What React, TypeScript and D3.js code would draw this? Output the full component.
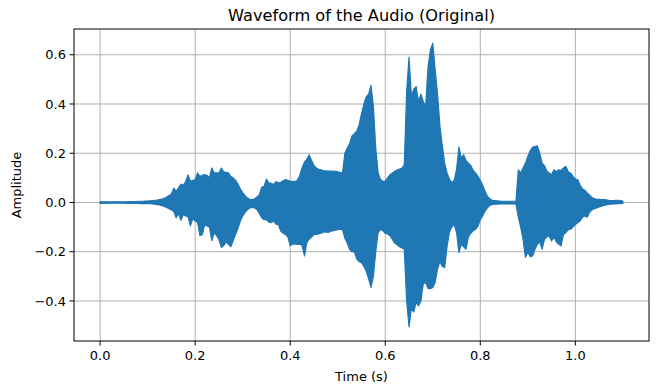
import React from 'react';
import * as d3 from 'd3';

// envelope of the waveform, one value every 5 ms from 0.000 s to 1.100 s
const SAMPLE_STEP = 0.005;

const upperEnvelope = [
  0.004, 0.003, 0.003, 0.003, 0.003, 0.003, 0.003, 0.003, 0.003, 0.003,
  0.003, 0.003, 0.004, 0.004, 0.004, 0.004, 0.005, 0.005, 0.005, 0.006,
  0.006, 0.007, 0.008, 0.009, 0.010, 0.012, 0.014, 0.017, 0.022, 0.028,
  0.035, 0.058, 0.045, 0.060, 0.075, 0.070, 0.085, 0.112, 0.086, 0.090,
  0.092, 0.120, 0.105, 0.110, 0.113, 0.110, 0.100, 0.140, 0.120, 0.120,
  0.120, 0.140, 0.125, 0.122, 0.120, 0.105, 0.100, 0.090, 0.075, 0.055,
  0.040, 0.028, 0.018, 0.013, 0.012, 0.015, 0.022, 0.032, 0.062, 0.066,
  0.095, 0.080, 0.078, 0.073, 0.085, 0.080, 0.082, 0.088, 0.093, 0.090,
  0.086, 0.086, 0.085, 0.090, 0.110, 0.140, 0.165, 0.175, 0.194, 0.170,
  0.150, 0.140, 0.135, 0.133, 0.130, 0.128, 0.127, 0.127, 0.127, 0.126,
  0.125, 0.122, 0.120, 0.200, 0.220, 0.240, 0.270, 0.280, 0.290, 0.315,
  0.360, 0.400, 0.430, 0.440, 0.476, 0.390, 0.220, 0.120, 0.093, 0.086,
  0.086, 0.100, 0.113, 0.120, 0.127, 0.132, 0.136, 0.140, 0.153, 0.450,
  0.590, 0.430, 0.460, 0.470, 0.410, 0.440, 0.410, 0.390, 0.550, 0.620,
  0.647, 0.540, 0.440, 0.310, 0.230, 0.160, 0.120, 0.095, 0.080, 0.090,
  0.133, 0.225, 0.180, 0.194, 0.170, 0.160, 0.150, 0.130, 0.120, 0.106,
  0.090, 0.070, 0.046, 0.025, 0.015, 0.009, 0.008, 0.007, 0.006, 0.005,
  0.005, 0.005, 0.005, 0.005, 0.005, 0.005, 0.133, 0.120, 0.140, 0.160,
  0.187, 0.210, 0.225, 0.227, 0.230, 0.200, 0.160, 0.150, 0.127, 0.120,
  0.113, 0.133, 0.125, 0.133, 0.130, 0.140, 0.147, 0.125, 0.120, 0.106,
  0.095, 0.093, 0.070, 0.055, 0.050, 0.039, 0.030, 0.020, 0.016, 0.013,
  0.013, 0.012, 0.012, 0.011, 0.009, 0.008, 0.008, 0.009, 0.009, 0.008,
  0.006,
];

const lowerEnvelope = [
  -0.004, -0.004, -0.004, -0.003, -0.003, -0.003, -0.003, -0.003, -0.003, -0.003,
  -0.003, -0.004, -0.004, -0.004, -0.004, -0.004, -0.004, -0.005, -0.005, -0.005,
  -0.004, -0.005, -0.006, -0.007, -0.009, -0.010, -0.013, -0.016, -0.020, -0.025,
  -0.030, -0.037, -0.062, -0.045, -0.072, -0.050, -0.055, -0.058, -0.095, -0.065,
  -0.075, -0.080, -0.135, -0.130, -0.090, -0.095, -0.100, -0.155, -0.122, -0.135,
  -0.150, -0.183, -0.175, -0.160, -0.170, -0.180, -0.155, -0.130, -0.105, -0.075,
  -0.055, -0.040, -0.030, -0.022, -0.020, -0.022, -0.028, -0.045, -0.062, -0.070,
  -0.070, -0.080, -0.082, -0.075, -0.088, -0.090, -0.116, -0.125, -0.130, -0.140,
  -0.176, -0.170, -0.168, -0.170, -0.170, -0.175, -0.217, -0.163, -0.148, -0.140,
  -0.130, -0.130, -0.128, -0.125, -0.120, -0.120, -0.122, -0.118, -0.115, -0.112,
  -0.110, -0.108, -0.110, -0.145, -0.165, -0.190, -0.200, -0.200, -0.230, -0.240,
  -0.245, -0.260, -0.280, -0.310, -0.345, -0.300, -0.200, -0.122, -0.110, -0.115,
  -0.125, -0.128, -0.135, -0.150, -0.165, -0.172, -0.180, -0.185, -0.190, -0.400,
  -0.505, -0.430, -0.445, -0.405, -0.420, -0.400, -0.330, -0.325, -0.350, -0.350,
  -0.345, -0.325, -0.270, -0.240, -0.260, -0.264, -0.180, -0.120, -0.100, -0.090,
  -0.122, -0.203, -0.170, -0.180, -0.190, -0.140, -0.125, -0.115, -0.109, -0.096,
  -0.070, -0.055, -0.035, -0.022, -0.012, -0.008, -0.007, -0.007, -0.006, -0.006,
  -0.006, -0.006, -0.006, -0.006, -0.006, -0.006, -0.060, -0.100, -0.150, -0.223,
  -0.200, -0.220, -0.217, -0.190, -0.170, -0.160, -0.190, -0.150, -0.140, -0.136,
  -0.156, -0.140, -0.160, -0.170, -0.176, -0.130, -0.122, -0.110, -0.109, -0.100,
  -0.090, -0.082, -0.075, -0.060, -0.055, -0.060, -0.040, -0.030, -0.025, -0.022,
  -0.018, -0.015, -0.012, -0.010, -0.008, -0.007, -0.006, -0.006, -0.005, -0.005,
  -0.004,
];

const xTicks = [0, 0.2, 0.4, 0.6, 0.8, 1.0];
const yTicks = [-0.4, -0.2, 0, 0.2, 0.4, 0.6];

const width = 659;
const height = 390;
const margin = { top: 29, right: 10, bottom: 49, left: 74 };
const font = 'DejaVu Sans, sans-serif';
const blue = '#1f77b4';

const App = () => {
  const samples = upperEnvelope.map((hi, i) => ({
    t: i * SAMPLE_STEP,
    hi,
    lo: lowerEnvelope[i],
  }));

  const tMax = d3.max(samples, (d) => d.t);
  const padX = tMax * 0.05;
  const yMin = d3.min(lowerEnvelope);
  const yMax = d3.max(upperEnvelope);
  const padY = (yMax - yMin) * 0.05;

  const x = d3
    .scaleLinear()
    .domain([-padX, tMax + padX])
    .range([margin.left, width - margin.right]);
  const y = d3
    .scaleLinear()
    .domain([yMin - padY, yMax + padY])
    .range([height - margin.bottom, margin.top]);

  const area = d3
    .area()
    .x((d) => x(d.t))
    .y0((d) => y(d.lo))
    .y1((d) => y(d.hi));

  const x0 = margin.left;
  const x1 = width - margin.right;
  const y0 = height - margin.bottom;
  const y1 = margin.top;
  const fmt = d3.format('.1f');

  return (
    <svg
      width={width}
      height={height}
      style={{ position: 'absolute', left: 0, top: 0, background: '#fff' }}
      fontFamily={font}
    >
      {xTicks.map((t) => (
        <line key={'gx' + t} x1={x(t)} x2={x(t)} y1={y0} y2={y1} stroke="#b0b0b0" strokeWidth={1} />
      ))}
      {yTicks.map((t) => (
        <line key={'gy' + t} x1={x0} x2={x1} y1={y(t)} y2={y(t)} stroke="#b0b0b0" strokeWidth={1} />
      ))}

      <path d={area(samples)} fill={blue} stroke={blue} strokeWidth={1.2} strokeLinejoin="round" />

      <rect x={x0} y={y1} width={x1 - x0} height={y0 - y1} fill="none" stroke="#000" strokeWidth={1} />

      {xTicks.map((t) => (
        <g key={'tx' + t}>
          <line x1={x(t)} x2={x(t)} y1={y0} y2={y0 + 4.5} stroke="#000" />
          <text x={x(t)} y={y0 + 19} fontSize={13} textAnchor="middle" fill="#000">
            {fmt(t)}
          </text>
        </g>
      ))}
      {yTicks.map((t) => (
        <g key={'ty' + t}>
          <line x1={x0 - 4.5} x2={x0} y1={y(t)} y2={y(t)} stroke="#000" />
          <text x={x0 - 8} y={y(t)} dy="0.35em" fontSize={13} textAnchor="end" fill="#000">
            {fmt(t)}
          </text>
        </g>
      ))}

      <text x={(x0 + x1) / 2} y={21} fontSize={16.2} textAnchor="middle" fill="#000">
        Waveform of the Audio (Original)
      </text>
      <text x={(x0 + x1) / 2} y={381} fontSize={13} textAnchor="middle" fill="#000">
        Time (s)
      </text>
      <text
        transform={`translate(21,${(y0 + y1) / 2}) rotate(-90)`}
        fontSize={13}
        textAnchor="middle"
        fill="#000"
      >
        Amplitude
      </text>
    </svg>
  );
};

export default App;
